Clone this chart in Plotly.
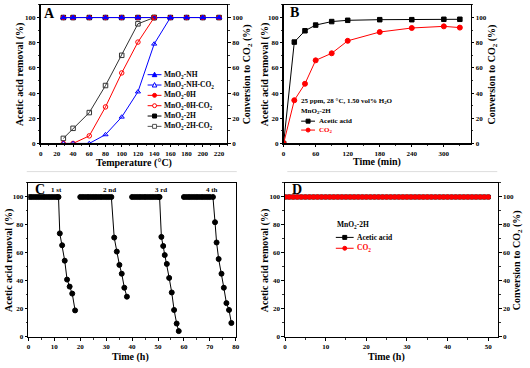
import plotly.graph_objects as go

W, H = 530, 368
SERIF = "Liberation Serif"
BLUE, RED, BLACK = "#0000FF", "#FF0000", "#000000"

# ---------------- Panel A data ----------------
temp_removal = [28, 40, 60, 80, 100, 120, 140, 160, 180, 200, 220]
removal_nh = [100, 100, 100, 100, 100, 100, 100, 100, 100, 100, 100]
removal_0h = [100, 100, 100, 100, 100, 100, 100, 100, 100, 100, 100]
removal_2h = [100, 100, 100, 100, 100, 100, 100, 100, 100, 100, 100]
temp_nh_co2 = [28, 40, 60, 80, 100, 120, 140, 160]
co2_nh = [0, 0, 0, 7, 21, 41, 79, 100]
temp_0h_co2 = [28, 40, 60, 80, 100, 120, 140]
co2_0h = [0, 0, 6, 29, 56, 80.5, 100]
temp_2h_co2 = [28, 40, 60, 80, 100, 120, 140]
co2_2h = [4, 12, 24.5, 46, 70, 95, 100]
a_names = ["MnO<sub>2</sub>-NH", "MnO<sub>2</sub>-NH-CO<sub>2</sub>",
           "MnO<sub>2</sub>-0H", "MnO<sub>2</sub>-0H-CO<sub>2</sub>",
           "MnO<sub>2</sub>-2H", "MnO<sub>2</sub>-2H-CO<sub>2</sub>"]

# ---------------- Panel B data ----------------
time_min = [0, 20, 40, 60, 90, 120, 180, 240, 300, 330]
acetic_b = [0, 80.5, 89.5, 94, 96.8, 97.8, 98.3, 98.3, 98.6, 98.6]
co2_b = [0, 34.3, 47.4, 66, 71.6, 81.5, 88.5, 91.7, 93, 92]

# ---------------- Panel C data ----------------
c1_t = [0, 1, 2, 3, 4, 5, 6, 7, 8, 9, 10, 11, 11.6, 12.1, 13, 14, 14.9, 15.9, 16.9, 18]
c1_v = [100, 100, 100, 100, 100, 100, 100, 100, 100, 100, 100, 100, 100, 74, 65.5, 54.5, 41, 36, 31, 19]
c2_t = [20, 21, 22, 23, 24, 25, 26, 27, 28, 29, 30, 31, 32, 33.1, 34.1, 35.1, 36, 37, 38]
c2_v = [100, 100, 100, 100, 100, 100, 100, 100, 100, 100, 100, 100, 100, 71, 61, 51.5, 45.2, 35.2, 28.8]
c3_t = [40, 41, 42, 43, 44, 45, 46, 47, 48, 49, 50, 50.6, 51.3, 52, 52.6, 53.4, 54.3, 55.3, 56.2, 57.2, 58]
c3_v = [100, 100, 100, 100, 100, 100, 100, 100, 100, 100, 100, 100, 71.5, 65, 58.5, 52.2, 42.2, 31.8, 19.3, 9.6, 4.2]
c4_t = [60, 61, 62, 63, 64, 65, 66, 67, 68, 69, 70, 71.2, 72, 72.6, 73.4, 74.5, 75.4, 76.4, 77.4, 78.3]
c4_v = [100, 100, 100, 100, 100, 100, 100, 100, 100, 100, 100, 100, 82, 67.5, 55.7, 45.2, 35.2, 24.2, 19.3, 10]
cycle_labels = ["1 st", "2 nd", "3 rd", "4 th"]
cycle_label_x = [10.8, 31.2, 51, 70.7]

# ---------------- Panel D data ----------------
time_h_d = [0, 1, 2, 3, 4, 5, 6, 7, 8, 9, 10, 11, 12, 13, 14, 15, 16, 17, 18, 19, 20,
            21, 22, 23, 24, 25, 26, 27, 28, 29, 30, 31, 32, 33, 34, 35, 36, 37, 38, 39, 40,
            41, 42, 43, 44, 45, 46, 47, 48, 49, 50]
acetic_d = [100, 100, 100, 100, 100, 100, 100, 100, 100, 100, 100, 100, 100, 100, 100, 100, 100,
            100, 100, 100, 100, 100, 100, 100, 100, 100, 100, 100, 100, 100, 100, 100, 100, 100,
            100, 100, 100, 100, 100, 100, 100, 100, 100, 100, 100, 100, 100, 100, 100, 100, 100]
co2_d = [100, 100, 100, 100, 100, 100, 100, 100, 100, 100, 100, 100, 100, 100, 100, 100, 100,
         100, 100, 100, 100, 100, 100, 100, 100, 100, 100, 100, 100, 100, 100, 100, 100, 100,
         100, 100, 100, 100, 100, 100, 100, 100, 100, 100, 100, 100, 100, 100, 100, 100, 100]


def px(x):
    return x / W


def py(y):
    return 1 - y / H


def dom_x(a, b):
    return [a / W, b / W]


def dom_y(top, bottom):
    return [1 - bottom / H, 1 - top / H]


fig = go.Figure()


def sc(x, y, color, symbol, xa, ya, size=4.5, width=1):
    return go.Scatter(x=x, y=y, mode="lines+markers", xaxis=xa, yaxis=ya,
                      line=dict(color=color, width=width),
                      marker=dict(color=color, symbol=symbol, size=size,
                                  line=dict(color=color, width=1)),
                      showlegend=False, hoverinfo="skip")


# Panel A
fig.add_trace(sc(temp_2h_co2, co2_2h, "#333333", "square-open", "x", "y2"))
fig.add_trace(sc(temp_0h_co2, co2_0h, RED, "circle-open", "x", "y2"))
fig.add_trace(sc(temp_nh_co2, co2_nh, BLUE, "triangle-up-open", "x", "y2"))
fig.add_trace(sc(temp_removal, removal_2h, BLACK, "square", "x", "y"))
fig.add_trace(sc(temp_removal, removal_0h, RED, "circle", "x", "y"))
fig.add_trace(sc(temp_removal, removal_nh, BLUE, "triangle-up", "x", "y", size=5))

# Panel B
fig.add_trace(sc(time_min, acetic_b, BLACK, "square", "x3", "y3"))
fig.add_trace(sc(time_min, co2_b, RED, "circle", "x3", "y4", size=5))

# Panel C
c_t = c1_t + [None] + c2_t + [None] + c3_t + [None] + c4_t
c_v = c1_v + [None] + c2_v + [None] + c3_v + [None] + c4_v
fig.add_trace(sc(c_t, c_v, BLACK, "circle", "x5", "y5", size=5))

# Panel D
fig.add_trace(sc(time_h_d, acetic_d, BLACK, "square", "x6", "y6", size=4))
fig.add_trace(sc(time_h_d, co2_d, RED, "circle", "x6", "y7", size=4.5))

tickfont = dict(family=SERIF, size=7, color="black", weight="bold")


def axis(domain, rng, dtick, minor_dtick, anchor, mirror=True, **kw):
    d = dict(domain=domain, range=rng, dtick=dtick, tick0=0, anchor=anchor,
             showline=True, linecolor="black", linewidth=1.2, mirror=mirror,
             ticks="outside", ticklen=2.5, tickwidth=1, tickcolor="black",
             showgrid=False, zeroline=False, tickfont=tickfont,
             minor=dict(ticks="outside", ticklen=1.6, tickwidth=0.8, tickcolor="black",
                        dtick=minor_dtick, tick0=0, showgrid=False))
    d.update(kw)
    return d


yA = dom_y(5, 145)
yC = dom_y(185, 340.7)
fig.update_layout(
    xaxis=axis(dom_x(39, 227.3), [0, 230], 20, 10, "y"),
    yaxis=axis(yA, [0, 110], 20, 10, "x", mirror=False),
    yaxis2=axis(yA, [0, 110], 20, 10, "x", mirror=False, overlaying="y", side="right"),
    xaxis3=axis(dom_x(284.3, 473), [0, 350], 60, 30, "y3"),
    yaxis3=axis(yA, [0, 110], 20, 10, "x3", mirror=False),
    yaxis4=axis(yA, [0, 110], 20, 10, "x3", mirror=False, overlaying="y3", side="right"),
    xaxis5=axis(dom_x(26.7, 236.5), [0, 80.2], 10, 5, "y5"),
    yaxis5=axis(yC, [0, 110], 20, 10, "x5", mirror=True),
    xaxis6=axis(dom_x(285.7, 500.7), [0, 52.4], 10, 5, "y6"),
    yaxis6=axis(yC, [0, 110], 20, 10, "x6", mirror=False),
    yaxis7=axis(yC, [0, 110], 20, 10, "x6", mirror=False, overlaying="y6", side="right"),
)

annotations = []
shapes = []


def text(x, y, s, size=10, angle=0, color="black", xanchor="center"):
    annotations.append(dict(
        x=px(x), y=py(y), xref="paper", yref="paper",
        text=s, showarrow=False, textangle=angle, xanchor=xanchor, yanchor="middle",
        font=dict(family=SERIF, size=size, color=color, weight="bold")))


# Axis titles
removal_title = "Acetic acid removal (%)"
co2_title = "Conversion to CO<sub>2</sub> (%)"
text(18, 75, removal_title, angle=-90)
text(247.5, 75, co2_title, angle=-90)
text(133, 164.5, "Temperature (\u00b0C)")
text(265.5, 75, removal_title, angle=-90)
text(495, 75, co2_title, angle=-90)
text(379, 164, "Time (min)")
text(7, 263, removal_title, angle=-90)
text(130, 360.5, "Time (h)")
text(265.5, 263, removal_title, angle=-90)
text(520, 263, co2_title, angle=-90)
text(388, 361, "Time (h)")

# Panel letters
text(48, 13.5, "A", size=14)
text(295, 12.5, "B", size=14)
text(38, 191.5, "C", size=14)
text(297.5, 191.5, "D", size=14)

# cycle labels
for lab, lx in zip(cycle_labels, cycle_label_x):
    annotations.append(dict(x=lx, y=105, xref="x5", yref="y5", text=lab, showarrow=False,
                            xanchor="center", yanchor="middle",
                            font=dict(family=SERIF, size=7, color="black", weight="bold")))


def marker_shape(cx, cy, symbol, color, filled, s=4.0):
    fill = color if filled else "white"
    h = s / 2
    if symbol == "circle":
        shapes.append(dict(type="circle", xref="paper", yref="paper",
                           x0=px(cx - h), x1=px(cx + h), y0=py(cy + h), y1=py(cy - h),
                           line=dict(color=color, width=1), fillcolor=fill, layer="above"))
    elif symbol == "square":
        shapes.append(dict(type="rect", xref="paper", yref="paper",
                           x0=px(cx - h), x1=px(cx + h), y0=py(cy + h), y1=py(cy - h),
                           line=dict(color=color, width=1), fillcolor=fill, layer="above"))
    else:
        path = "M %f,%f L %f,%f L %f,%f Z" % (px(cx), py(cy - h - 0.5), px(cx - h - 0.3), py(cy + h),
                                              px(cx + h + 0.3), py(cy + h))
        shapes.append(dict(type="path", xref="paper", yref="paper", path=path,
                           line=dict(color=color, width=1), fillcolor=fill, layer="above"))


def legend_item(x0, x1, y, color, symbol, filled, label, tx, size, tcolor="black"):
    shapes.append(dict(type="line", xref="paper", yref="paper",
                       x0=px(x0), x1=px(x1), y0=py(y), y1=py(y),
                       line=dict(color=color, width=1), layer="above"))
    marker_shape((x0 + x1) / 2, y, symbol, color, filled)
    text(tx, y, label, size=size, xanchor="left", color=tcolor)


# Panel A legend
a_colors = [BLUE, BLUE, RED, RED, BLACK, "#555555"]
a_symbols = ["triangle", "triangle", "circle", "circle", "square", "square"]
a_filled = [True, False, True, False, True, False]
for i, nm in enumerate(a_names):
    yy = 75.5 + i * 10.45
    legend_item(147, 161, yy, a_colors[i], a_symbols[i], a_filled[i], nm, 162, 7.5)

# Panel B legend
text(300, 102, "25 ppm, 28 \u00b0C, 1.50 vol% H<sub>2</sub>O", size=7, xanchor="left")
text(300, 112.5, "MnO<sub>2</sub>-2H", size=7, xanchor="left")
legend_item(302, 316, 122.5, BLACK, "square", True, "Acetic acid", 318, 7)
legend_item(302, 316, 131.5, RED, "circle", True, "CO<sub>2</sub>", 318, 7, tcolor=RED)

# Panel D legend
text(336, 227, "MnO<sub>2</sub>-2H", size=7.5, xanchor="left")
legend_item(337, 355, 240, BLACK, "square", True, "Acetic acid", 356, 7.5)
legend_item(337, 355, 251, RED, "circle", True, "CO<sub>2</sub>", 356, 7.5, tcolor=RED)

# faint separator lines
shapes.append(dict(type="line", xref="paper", yref="paper", x0=px(25), x1=px(237),
                   y0=py(173.5), y1=py(173.5), line=dict(color="#dddddd", width=1)))
shapes.append(dict(type="line", xref="paper", yref="paper", x0=px(288), x1=px(500),
                   y0=py(173.5), y1=py(173.5), line=dict(color="#dddddd", width=1)))

fig.update_layout(
    width=W, height=H, margin=dict(l=0, r=0, t=0, b=0),
    paper_bgcolor="white", plot_bgcolor="white",
    font=dict(family=SERIF, color="black"),
    showlegend=False,
    annotations=annotations, shapes=shapes,
)

fig.write_html("out.html", config={"displayModeBar": False, "staticPlot": True},
               post_script="document.body.style.margin='0';document.body.style.padding='0';")
